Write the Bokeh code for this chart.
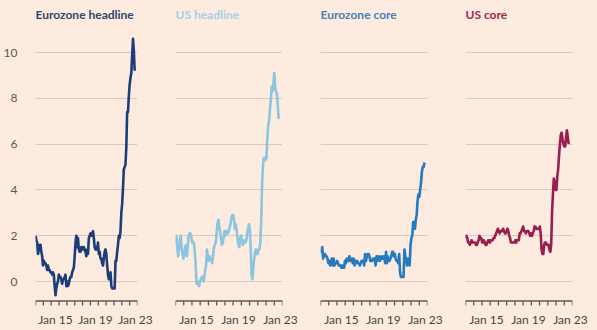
import numpy as np
import pandas as pd
from bokeh.plotting import figure
from bokeh.layouts import row
from bokeh.models import Range1d, FixedTicker, Label
from bokeh.embed import file_html
from bokeh.resources import INLINE

# ---------------- data (monthly, year-on-year %, from Jan 2013) ----------------
eurozone_headline = [
    2.0, 1.8, 1.7, 1.2, 1.4, 1.6, 1.6, 1.3, 1.1, 0.7, 0.9, 0.8,
    0.8, 0.7, 0.5, 0.7, 0.5, 0.5, 0.4, 0.4, 0.3, 0.4, 0.3, -0.2,
    -0.6, -0.3, -0.1, 0.0, 0.3, 0.2, 0.2, 0.1, -0.1, 0.1, 0.1, 0.2,
    0.3, -0.2, 0.0, -0.2, -0.1, 0.1, 0.2, 0.2, 0.4, 0.5, 0.6, 1.1,
    1.7, 2.0, 1.5, 1.9, 1.4, 1.3, 1.3, 1.5, 1.5, 1.4, 1.5, 1.4,
    1.3, 1.1, 1.4, 1.2, 1.9, 2.0, 2.1, 2.0, 2.1, 2.2, 1.9, 1.5,
    1.4, 1.5, 1.4, 1.7, 1.2, 1.3, 1.0, 1.0, 0.8, 0.7, 1.0, 1.3,
    1.4, 1.2, 0.7, 0.3, 0.1, 0.3, 0.4, -0.2, -0.3, -0.3, -0.3, -0.3,
    0.9, 0.9, 1.3, 1.6, 2.0, 1.9, 2.2, 3.0, 3.4, 4.1, 4.9, 5.0,
    5.1, 5.9, 7.4, 7.4, 8.1, 8.6, 8.9, 9.1, 9.9, 10.6, 10.1, 9.2,
]
us_headline = [
    1.6, 2.0, 1.5, 1.1, 1.4, 1.8, 2.0, 1.5, 1.2, 1.0, 1.2, 1.5,
    1.6, 1.1, 1.5, 2.0, 2.1, 2.1, 2.0, 1.7, 1.7, 1.7, 1.3, 0.8,
    -0.1, 0.0, -0.1, -0.2, 0.0, 0.1, 0.2, 0.2, 0.0, 0.2, 0.5, 0.7,
    1.4, 1.0, 0.9, 1.1, 1.0, 1.0, 0.8, 1.1, 1.5, 1.6, 1.7, 2.1,
    2.5, 2.7, 2.4, 2.2, 1.9, 1.6, 1.7, 1.9, 2.2, 2.0, 2.2, 2.1,
    2.1, 2.2, 2.4, 2.5, 2.8, 2.9, 2.9, 2.7, 2.3, 2.5, 2.2, 1.9,
    1.6, 1.5, 1.9, 2.0, 1.8, 1.6, 1.8, 1.7, 1.7, 1.8, 2.1, 2.3,
    2.5, 2.3, 1.5, 0.3, 0.1, 0.6, 1.0, 1.3, 1.4, 1.2, 1.2, 1.4,
    1.4, 1.7, 2.6, 4.2, 5.0, 5.4, 5.4, 5.3, 5.4, 6.2, 6.8, 7.0,
    7.5, 7.9, 8.5, 8.3, 8.6, 9.1, 8.5, 8.3, 8.2, 7.7, 7.1,
]
eurozone_core = [
    1.3, 1.3, 1.5, 1.0, 1.2, 1.2, 1.1, 1.1, 1.0, 0.8, 0.9, 0.7,
    0.8, 1.0, 0.7, 1.0, 0.7, 0.8, 0.8, 0.9, 0.8, 0.7, 0.7, 0.7,
    0.6, 0.7, 0.6, 0.6, 0.9, 0.8, 1.0, 0.9, 0.9, 1.1, 0.9, 0.9,
    1.0, 0.8, 1.0, 0.7, 0.8, 0.9, 0.9, 0.8, 0.8, 0.7, 0.8, 0.9,
    0.9, 0.9, 0.7, 1.2, 0.9, 1.1, 1.2, 1.2, 1.1, 0.9, 0.9, 0.9,
    1.0, 1.0, 1.0, 0.7, 1.1, 0.9, 1.1, 1.0, 0.9, 1.1, 1.0, 1.0,
    1.1, 1.0, 0.8, 1.3, 0.8, 1.1, 0.9, 0.9, 1.0, 1.1, 1.3, 1.3,
    1.1, 1.2, 1.0, 0.9, 0.9, 0.8, 1.2, 0.4, 0.2, 0.2, 0.2, 0.2,
    1.4, 1.1, 0.9, 0.7, 1.0, 0.9, 0.7, 1.6, 1.9, 2.0, 2.6, 2.6,
    2.3, 2.7, 2.9, 3.5, 3.8, 3.7, 4.0, 4.3, 4.8, 5.0, 5.0, 5.2,
]
us_core = [
    1.9, 2.0, 1.9, 1.7, 1.7, 1.6, 1.7, 1.8, 1.7, 1.7, 1.7, 1.7,
    1.6, 1.6, 1.7, 1.8, 2.0, 1.9, 1.9, 1.7, 1.7, 1.8, 1.7, 1.6,
    1.6, 1.7, 1.8, 1.8, 1.7, 1.8, 1.8, 1.8, 1.9, 1.9, 2.0, 2.1,
    2.2, 2.3, 2.2, 2.1, 2.2, 2.2, 2.2, 2.3, 2.2, 2.1, 2.1, 2.2,
    2.3, 2.2, 2.0, 1.9, 1.7, 1.7, 1.7, 1.7, 1.7, 1.8, 1.7, 1.8,
    1.8, 1.8, 2.1, 2.1, 2.2, 2.3, 2.4, 2.2, 2.2, 2.1, 2.2, 2.2,
    2.2, 2.1, 2.0, 2.1, 2.0, 2.1, 2.2, 2.4, 2.4, 2.3, 2.3, 2.3,
    2.3, 2.4, 2.1, 1.4, 1.2, 1.2, 1.6, 1.7, 1.7, 1.6, 1.6, 1.6,
    1.4, 1.3, 1.6, 3.0, 3.8, 4.5, 4.3, 4.0, 4.0, 4.6, 4.9, 5.5,
    6.0, 6.4, 6.5, 6.2, 6.0, 5.9, 5.9, 6.3, 6.6, 6.3, 6.0,
]
titles = ["Eurozone headline", "US headline", "Eurozone core", "US core"]
y_ticks = [0, 2, 4, 6, 8, 10]
x_label_years = [2015, 2019, 2023]
x_tick_labels = {2015: "Jan 15", 2019: "Jan 19", 2023: "Jan 23"}
n_minor_ticks = 14
start_month = "2013-01-01"
x_start, x_end = 2013.0, 2023.2

# ---------------- style / geometry (pixels) ----------------
BG = "#FDEBDF"
GRID = "#D9CBBF"
AXIS = "#5F5955"
line_colors = ["#1D3D78", "#8CC5DF", "#2479BF", "#9B1D50"]
title_colors = ["#2F4866", "#A6D2E4", "#4681B8", "#9A2751"]
FONT = "Lato"
H = 330
ZERO_PX = 281          # pixel row of the 0 gridline
PX_PER_UNIT = 22.9     # pixels per percentage point
FRAME_BOTTOM_PX = 311  # frame spans from canvas top to here
AXIS_PX = 300.5        # pixel row of the axis bracket line
TICK_LEN_PX = 4.5
TITLE_PX = 14          # pixel row of title centre
# (figure width, left border, right border) per panel
panel_geom = [(157, 30, 20), (145, 18, 20), (145, 18, 20), (150, 18, 25)]

y_lo = -(FRAME_BOTTOM_PX - ZERO_PX) / PX_PER_UNIT
y_hi = ZERO_PX / PX_PER_UNIT
axis_y = -(AXIS_PX - ZERO_PX) / PX_PER_UNIT
tick_y = -(AXIS_PX + TICK_LEN_PX - ZERO_PX) / PX_PER_UNIT
tick_xs = np.linspace(x_start, x_end, n_minor_ticks)


def decimal_years(n):
    d = pd.date_range(start_month, periods=n, freq="MS")
    return (d.year + (d.month - 1) / 12.0).to_numpy(dtype=float)


series = [eurozone_headline, us_headline, eurozone_core, us_core]
figs = []
for i, (vals, ttl) in enumerate(zip(series, titles)):
    w, bl, br = panel_geom[i]
    p = figure(
        width=w, height=H,
        output_backend="svg", toolbar_location=None,
        x_range=Range1d(x_start, x_end), y_range=Range1d(y_lo, y_hi),
    )
    p.min_border = 0
    p.min_border_left = bl
    p.min_border_right = br
    p.min_border_top = 0
    p.min_border_bottom = H - FRAME_BOTTOM_PX
    p.background_fill_color = BG
    p.border_fill_color = BG
    p.outline_line_color = None

    # title, drawn inside the (tall) frame
    p.add_layout(Label(
        x=0, y=FRAME_BOTTOM_PX - TITLE_PX, x_units="screen", y_units="screen",
        text=ttl, text_font=FONT, text_font_style="bold",
        text_font_size="12px", text_color=title_colors[i],
        text_align="left", text_baseline="middle",
    ))

    p.xgrid.grid_line_color = None
    p.ygrid.grid_line_color = GRID
    p.ygrid.grid_line_width = 1
    p.yaxis.ticker = FixedTicker(ticks=y_ticks)
    p.xaxis.ticker = FixedTicker(ticks=x_label_years)
    p.xaxis.major_label_overrides = x_tick_labels
    p.xaxis.axis_line_color = None
    p.xaxis.major_tick_line_color = None
    p.xaxis.major_tick_in = 0
    p.xaxis.major_tick_out = 0
    p.xaxis.minor_tick_line_color = None
    p.xaxis.major_label_text_font = FONT
    p.xaxis.major_label_text_font_size = "12px"
    p.xaxis.major_label_text_color = "#4A4543"
    p.xaxis.major_label_standoff = 0

    p.yaxis.axis_line_color = None
    p.yaxis.major_tick_line_color = None
    p.yaxis.minor_tick_line_color = None
    p.yaxis.major_label_text_font = FONT
    p.yaxis.major_label_text_font_size = "12px"
    p.yaxis.major_label_text_color = "#5E5854"
    p.yaxis.major_label_standoff = 12
    if i > 0:
        p.yaxis.visible = False

    # x-axis bracket (line + evenly spaced ticks)
    p.segment(x0=[x_start], y0=[axis_y], x1=[x_end], y1=[axis_y],
              line_color=AXIS, line_width=1.3)
    p.segment(x0=tick_xs, y0=[axis_y] * len(tick_xs),
              x1=tick_xs, y1=[tick_y] * len(tick_xs),
              line_color=AXIS, line_width=1.3)

    p.line(decimal_years(len(vals)), vals, line_color=line_colors[i],
           line_width=2.6, line_join="round")
    figs.append(p)

layout = row(*figs, spacing=0)
layout.styles = {"background-color": BG}
open("out.html", "w").write(file_html(layout, INLINE))
